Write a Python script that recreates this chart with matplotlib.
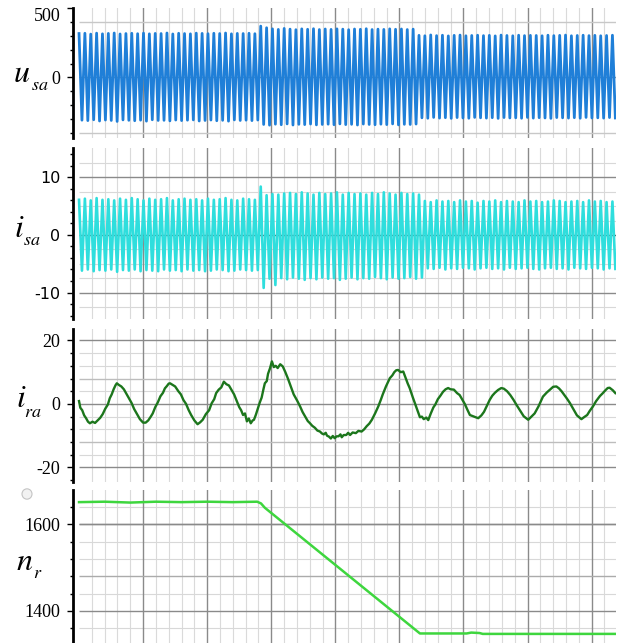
import numpy as np
import matplotlib
matplotlib.use("Agg")
import matplotlib.pyplot as plt
from matplotlib.ticker import MultipleLocator, FixedLocator
from matplotlib.patches import Circle

plt.rcParams['mathtext.fontset'] = 'stix'
plt.rcParams['axes.unicode_minus'] = False

# ---- recorded waveforms (time axis in scope divisions) ----
T_END = 8.37

# stator voltage u_sa: positive / negative peak of every cycle
usa_pos_peaks = [318, 320, 314, 321, 316, 319, 322, 315, 318, 320, 317, 321, 316, 319, 318, 322,
                 315, 320, 318, 316, 321, 319, 317, 320, 318, 322, 316, 319, 318, 320, 317,
                 372, 360, 352, 348, 355, 350, 346, 352, 349, 353, 347, 351, 348, 352, 350, 346,
                 351, 349, 353, 347, 350, 348, 352, 349, 351, 347, 350,
                 305, 302, 308, 303, 306, 301, 305, 307, 302, 304, 306, 303, 305, 301, 307, 304,
                 302, 306, 303, 305, 304, 302, 306, 303, 305, 307, 302, 304, 306, 303, 305, 302,
                 304, 306]
usa_neg_peaks = [-309, -312, -306, -315, -308, -311, -318, -307, -310, -313, -309, -316, -306, -311,
                 -310, -314, -308, -312, -309, -307, -315, -311, -308, -313, -310, -316, -307, -311,
                 -309, -312, -308,
                 -340, -345, -338, -342, -336, -344, -339, -341, -337, -343, -340, -338, -342, -336,
                 -341, -339, -344, -337, -340, -342, -338, -341, -336, -343, -339, -340, -337,
                 -292, -295, -289, -294, -291, -296, -290, -293, -295, -289, -292, -294, -291, -296,
                 -290, -293, -292, -295, -289, -294, -291, -293, -296, -290, -292, -294, -291, -295,
                 -289, -293, -292, -294, -290, -293]

# stator current i_sa: positive / negative peak of every cycle
isa_pos_peaks = [6.1, 6.3, 6.0, 6.4, 6.1, 6.2, 6.0, 6.3, 6.1, 6.4, 6.2, 6.0, 6.3, 6.1, 6.2, 6.4,
                 6.0, 6.2, 6.3, 6.1, 6.2, 6.0, 6.3, 6.1, 6.2, 6.4, 6.1, 6.0, 6.3, 6.2, 6.1,
                 8.4, 6.9, 7.1, 7.0, 7.2, 7.3, 7.1, 7.4, 7.2, 7.0, 7.3, 7.1, 7.2, 7.4, 7.0, 7.3,
                 7.1, 7.2, 7.0, 7.3, 7.1, 7.4, 7.2, 7.0, 7.3, 7.1, 7.2, 7.0,
                 5.9, 5.7, 6.0, 5.8, 5.9, 5.7, 6.0, 5.8, 5.9, 5.6, 5.9, 5.8, 6.0, 5.7, 5.9, 5.8,
                 5.7, 6.0, 5.8, 5.9, 5.7, 5.8, 6.0, 5.9, 5.7, 5.8, 5.9, 5.7, 6.0, 5.8, 5.9, 5.7, 5.8]
isa_neg_peaks = [-6.2, -6.0, -6.3, -6.1, -6.2, -6.0, -6.4, -6.1, -6.2, -6.0, -6.3, -6.1, -6.2, -6.3,
                 -6.0, -6.2, -6.1, -6.3, -6.0, -6.2, -6.1, -6.3, -6.2, -6.0, -6.1, -6.3, -6.2, -6.0,
                 -6.1, -6.2, -6.1,
                 -9.2, -7.6, -8.7, -7.5, -7.7, -7.4, -7.6, -7.8, -7.5, -7.7, -7.4, -7.6, -7.5, -7.8,
                 -7.6, -7.4, -7.7, -7.5, -7.6, -7.3, -7.5, -7.7, -7.4, -7.6, -7.5, -7.3, -7.6, -7.4,
                 -5.8, -5.9, -5.7, -6.0, -5.8, -5.9, -5.7, -5.8, -6.0, -5.8, -5.7, -5.9, -5.8, -6.0,
                 -5.7, -5.9, -5.8, -5.7, -5.9, -6.0, -5.8, -5.7, -5.9, -5.8, -6.0, -5.7, -5.8, -5.9,
                 -5.7, -5.8, -6.0, -5.8, -5.9]

# rotor current i_ra
ira_t = [0.00, 0.02, 0.05, 0.08, 0.11, 0.14, 0.17, 0.21, 0.25, 0.29, 0.33, 0.37, 0.41, 0.45, 0.48,
         0.51, 0.54, 0.57, 0.59, 0.62, 0.66, 0.70, 0.73, 0.77, 0.82, 0.86, 0.90, 0.95, 1.00,
         1.04, 1.08, 1.12, 1.15, 1.19, 1.23, 1.27, 1.31, 1.34, 1.37, 1.40, 1.42, 1.46, 1.50, 1.55,
         1.59, 1.63, 1.67, 1.71, 1.75, 1.80, 1.85, 1.89, 1.93, 1.98, 2.03, 2.07, 2.11, 2.14, 2.18,
         2.22, 2.26, 2.30, 2.34, 2.38, 2.42, 2.46, 2.50, 2.53, 2.56, 2.59, 2.62, 2.65, 2.68, 2.71,
         2.73, 2.76, 2.79, 2.82, 2.85, 2.88, 2.90, 2.93, 2.95, 2.98, 3.01, 3.04, 3.07, 3.10, 3.14,
         3.18, 3.22, 3.26, 3.30, 3.35, 3.40, 3.45, 3.49, 3.53, 3.57, 3.60, 3.64, 3.68, 3.72, 3.76,
         3.79, 3.82, 3.85, 3.87, 3.90, 3.93, 3.96, 3.99, 4.02, 4.05, 4.08, 4.10, 4.13, 4.17, 4.20,
         4.23, 4.27, 4.32, 4.36, 4.41, 4.45, 4.49, 4.53, 4.57, 4.62, 4.67, 4.71, 4.74, 4.79, 4.85,
         4.89, 4.92, 4.95, 4.98, 5.02, 5.06, 5.10, 5.13, 5.16, 5.21, 5.27, 5.30, 5.32, 5.35, 5.38,
         5.42, 5.45, 5.49, 5.53, 5.56, 5.60, 5.64, 5.68, 5.72, 5.76, 5.80, 5.85, 5.90, 5.94, 5.98,
         6.02, 6.06, 6.10, 6.15, 6.19, 6.23, 6.28, 6.32, 6.37, 6.41, 6.45, 6.49, 6.54, 6.59, 6.63,
         6.68, 6.73, 6.78, 6.83, 6.88, 6.94, 7.01, 7.06, 7.11, 7.17, 7.24, 7.30, 7.35, 7.40, 7.45,
         7.49, 7.53, 7.57, 7.61, 7.66, 7.71, 7.77, 7.84, 7.88, 7.93, 7.97, 8.02, 8.07, 8.13, 8.17,
         8.21, 8.25, 8.28, 8.33, 8.37]
ira_v = [0.9, -1.2, -2.0, -3.6, -4.5, -5.6, -6.1, -5.6, -6.0, -5.2, -4.4, -3.2, -1.5, -0.2, 1.8,
         3.0, 4.6, 5.9, 6.5, 6.0, 5.5, 4.6, 3.5, 2.1, 0.3, -1.6, -3.0, -4.8, -5.9,
         -5.9, -5.2, -4.0, -3.0, -1.0, 0.5, 2.4, 3.5, 4.9, 5.6, 6.4, 6.5, 6.0, 5.5, 4.0,
         3.0, 1.2, 0.0, -1.9, -3.5, -5.2, -6.4, -5.8, -5.0, -3.2, -2.0, 0.2, 1.5, 3.4, 4.5,
         5.2, 7.0, 6.2, 5.8, 4.4, 3.0, 1.0, -1.0, -2.0, -3.5, -3.0, -5.5, -4.6, -6.1, -5.2,
         -5.0, -3.4, -1.5, 0.4, 2.0, 4.8, 6.5, 7.2, 9.5, 11.2, 13.4, 11.6, 12.0, 11.3, 12.5,
         11.8, 10.0, 8.0, 5.8, 3.0, 1.2, -0.8, -2.6, -4.0, -5.4, -6.0, -6.9, -7.5, -8.4, -8.7,
         -9.3, -9.6, -9.1, -10.0, -10.3, -10.9, -10.1, -10.8, -10.2, -10.2, -9.6, -10.5, -9.8, -9.8, -9.1,
         -9.8, -9.0, -9.2, -8.5, -8.7, -8.0, -7.0, -6.2, -5.0, -3.0, -0.8, 1.3, 3.0, 5.5, 8.1,
         9.0, 10.0, 10.6, 10.7, 10.0, 10.2, 8.0, 6.4, 5.0, 2.0, -1.4, -3.1, -4.2, -4.0, -4.8,
         -4.3, -5.1, -3.0, -1.1, -0.2, 1.5, 2.6, 3.8, 4.6, 5.0, 4.6, 4.5, 3.4, 2.8, 1.4,
         0.0, -1.8, -3.5, -3.9, -4.2, -4.5, -3.6, -2.5, -0.4, 1.3, 2.6, 3.5, 4.4, 5.0, 4.8,
         4.0, 2.8, 1.3, -0.4, -2.0, -3.9, -5.0, -4.0, -3.0, -0.8, 2.3, 3.6, 4.5, 5.4, 5.5,
         4.9, 4.0, 2.9, 1.8, 0.3, -1.5, -3.6, -4.8, -4.2, -3.5, -2.2, -0.8, 0.9, 2.5, 3.3,
         4.2, 5.0, 5.1, 4.3, 3.4]

# rotor speed n_r
nr_t = [0.00, 0.40, 0.80, 1.20, 1.60, 2.00, 2.40, 2.78, 2.84, 2.90, 5.32, 5.60, 6.05, 6.12,
        6.25, 6.30, 7.00, 8.00, 8.38]
nr_v = [1651, 1652, 1650, 1652, 1651, 1652, 1651, 1652, 1648, 1638, 1348, 1348, 1348, 1350,
        1349, 1347, 1347, 1347, 1347]

# axis ticks
usa_ticks = [0, 500]
isa_ticks = [-10, 0, 10]
ira_ticks = [-20, 0, 20]
nr_ticks = [1400, 1600]


def zigzag(pos, neg):
    vals = [v for pair in zip(pos, neg) for v in pair]
    t = np.linspace(0, T_END, len(vals))
    return t, np.array(vals)


W, H = 622, 643
fig = plt.figure(figsize=(W / 100, H / 100), dpi=100)

X_LEFT, X_RIGHT = -0.094, 8.38


def make_axes(top_px, bot_px):
    left = 73 / W
    width = (616 - 73) / W
    return fig.add_axes([left, 1 - bot_px / H, width, (bot_px - top_px) / H])


def decorate(ax, ylim, ticks, minor_step, hmajor, hminor, hzero, tick_font, tick_size):
    ax.set_xlim(X_LEFT, X_RIGHT)
    ax.set_ylim(*ylim)
    for s in ('top', 'right', 'bottom'):
        ax.spines[s].set_visible(False)
    ax.spines['left'].set_linewidth(2.0)
    ax.spines['left'].set_color('black')
    ax.set_xticks([])
    ax.yaxis.set_major_locator(FixedLocator(ticks))
    ax.yaxis.set_minor_locator(MultipleLocator(minor_step))
    ax.tick_params(axis='y', which='major', direction='out', length=4, width=1.0, pad=5,
                   labelsize=tick_size)
    ax.tick_params(axis='y', which='minor', direction='out', length=2.5, width=1.0)
    for lab in ax.get_yticklabels():
        lab.set_family(tick_font)
    # background grid
    for x in np.arange(0.2, X_RIGHT, 0.2):
        if abs(x - round(x)) > 1e-6:
            ax.axvline(x, color='#dadada', lw=0.8, zorder=0)
    for x in range(1, 9):
        ax.axvline(x, color='#8a8a8a', lw=1.0, zorder=0.5)
    for y in hminor:
        ax.hlines(y, 0, X_RIGHT, color='#d8d8d8', lw=0.8, zorder=0)
    for y, c in hmajor:
        ax.hlines(y, 0, X_RIGHT, color=c, lw=1.0, zorder=0.5)
    y0, c0 = hzero
    ax.hlines(y0, 0, X_RIGHT, color=c0, lw=1.0, zorder=0.6)


# panel 1: u_sa
ax1 = make_axes(8, 138)
decorate(ax1, (-438, 503), usa_ticks, 100,
         [(400, '#c8c8c8'), (-400, '#c8c8c8')], [], (0, '#909090'), 'Liberation Serif', 13)
t, v = zigzag(usa_pos_peaks, usa_neg_peaks)
ax1.plot(t, v, color='#1f7fd8', lw=2.0, zorder=3)
# the top label sits just below its tick at the upper edge
ax1.get_yticklabels()[-1].set_verticalalignment('top')

# panel 2: i_sa
ax2 = make_axes(148, 319)
decorate(ax2, (-14.6, 15.1), isa_ticks, 2,
         [(10, '#8a8a8a'), (-10, '#8a8a8a')],
         [12.5, 7.5, 5, 2.5, -2.5, -5, -7.5, -12.5], (0, '#555555'), 'DejaVu Sans', 11.5)
t, v = zigzag(isa_pos_peaks, isa_neg_peaks)
ax2.plot(t, v, color='#2fdedd', lw=1.9, zorder=3)

# panel 3: i_ra
ax3 = make_axes(329, 482)
decorate(ax3, (-24.6, 23.6), ira_ticks, 4,
         [(20, '#8a8a8a'), (-20, '#8a8a8a'), (8, '#bdbdbd'), (-12, '#bdbdbd')],
         [16, 12, 4, -4, -8, -16], (0, '#8a8a8a'), 'Liberation Serif', 13)
ax3.plot(ira_t, ira_v, color='#1c761c', lw=1.7, zorder=3)

# panel 4: n_r
ax4 = make_axes(490, 643)
decorate(ax4, (1326, 1679), nr_ticks, 40,
         [(1600, '#8a8a8a'), (1400, '#8a8a8a'), (1480, '#ababab')],
         [1640, 1560, 1520, 1440, 1360], (1600, '#8a8a8a'), 'Liberation Serif', 13)
ax4.plot(nr_t, nr_v, color='#3ed63e', lw=1.8, zorder=3)

# channel names: main symbol plus a smaller subscript
MAIN, SUB = 23, 13


def channel_label(sym, sub, x_main, base_main, x_sub, base_sub):
    fig.text(x_main / W, 1 - base_main / H, '$%s$' % sym, fontsize=MAIN,
             ha='left', va='baseline')
    fig.text(x_sub / W, 1 - base_sub / H, '$%s$' % sub, fontsize=SUB,
             ha='left', va='baseline')


channel_label('u', 'sa', 13, 82, 31, 90)
channel_label('i', 'sa', 14, 237, 23, 245)
channel_label('i', 'ra', 16, 407, 24, 417)
channel_label('n', 'r', 16, 570, 33, 578)

# small toolbar marker next to the speed channel
fig.patches.append(Circle((27 / W, 1 - 494 / H), 5 / W, transform=fig.transFigure,
                          facecolor='#f2f2f2', edgecolor='#c4c4c4', lw=0.8))

fig.savefig('out.png', dpi=100)
